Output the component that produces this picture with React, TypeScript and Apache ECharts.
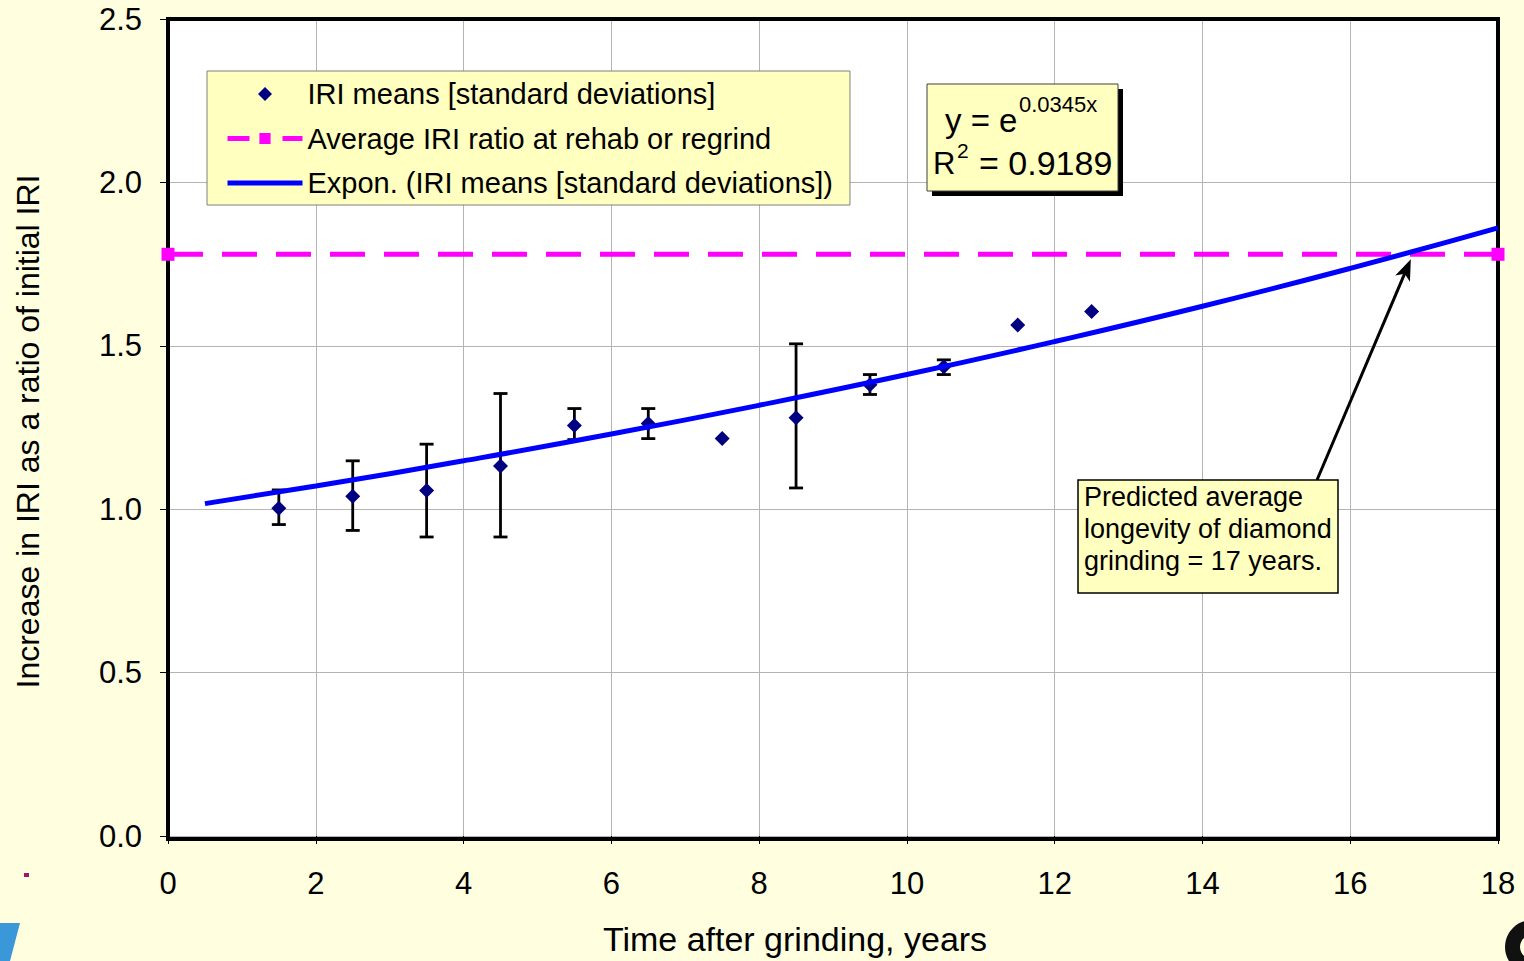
import React, { useEffect, useRef } from "react";
import * as echarts from "echarts";

// ---- data ----
const years = [1.5, 2.5, 3.5, 4.5, 5.5, 6.5, 7.5, 8.5, 9.5, 10.5, 11.5, 12.5];
const iriMeans = [1.003, 1.04, 1.057, 1.132, 1.256, 1.262, 1.216, 1.28, 1.381, 1.436, 1.564, 1.605];
const sdLow = [0.953, 0.935, 0.915, 0.915, 1.213, 1.216, null, 1.065, 1.351, 1.412, null, null];
const sdHigh = [1.059, 1.148, 1.199, 1.354, 1.308, 1.308, null, 1.506, 1.412, 1.457, null, null];
const trendX = [0.5, 2, 4, 6, 8, 10, 12, 14, 16, 18];
const trendY = [1.017, 1.071, 1.148, 1.23, 1.318, 1.412, 1.513, 1.621, 1.737, 1.861];
const rehabX = [0, 18];
const rehabY = [1.78, 1.78];
const arrowTip = [16.82, 1.765];

const SERIES_MEANS = "IRI means [standard deviations]";
const SERIES_REHAB = "Average IRI ratio at rehab or regrind";
const SERIES_TREND = "Expon. (IRI means [standard deviations])";
const annotationLines = ["Predicted average", "longevity of diamond", "grinding = 17 years."];

const FONT = "'Liberation Sans', Arial, Helvetica, sans-serif";
const DIAMOND = "path://M0,-1L1,0L0,1L-1,0Z";
const LINE_ICON = "path://M0,0L75,0L75,5L0,5Z";

const GRID = { left: 168, right: 26, top: 19, bottom: 122 };
const W = 1524;
const H = 961;

export default function App() {
  const ref = useRef<HTMLDivElement>(null);

  useEffect(() => {
    document.body.style.margin = "0";
    document.body.style.background = "#FFFFE0";
    const chart = echarts.init(ref.current!, null, { renderer: "svg" });

    const meansData = years.map((x, i) => [x, iriMeans[i]]);
    const errData = years
      .map((x, i) => [x, sdLow[i], sdHigh[i]])
      .filter((d) => d[1] != null && d[2] != null);
    const trendData = trendX.map((x, i) => [x, trendY[i]]);
    const rehabData = rehabX.map((x, i) => [x, rehabY[i]]);

    const option: any = {
      animation: false,
      backgroundColor: "#FFFFE0",
      textStyle: { fontFamily: FONT },
      grid: {
        ...GRID,
        show: true,
        backgroundColor: "#FFFFFF",
        borderWidth: 0,
      },
      legend: {
        left: 207,
        top: 71,
        orient: "vertical",
        data: [
          { name: SERIES_MEANS, icon: DIAMOND },
          { name: SERIES_REHAB, lineStyle: { width: 5, type: [22, 33], color: "#FF00FF" } },
          { name: SERIES_TREND, icon: LINE_ICON },
        ],
        itemWidth: 75,
        itemHeight: 14,
        itemGap: 14.5,
        symbolKeepAspect: true,
        padding: [8, 17, 7, 18],
        backgroundColor: "#FFFFC0",
        borderColor: "#808080",
        borderWidth: 1,
        borderRadius: 0,
        selectedMode: false,
        textStyle: { fontFamily: FONT, fontSize: 29, color: "#000", lineHeight: 30 },
        z: 100,
      },
      xAxis: {
        type: "value",
        min: 0,
        max: 18,
        interval: 2,
        name: "Time after grinding, years",
        nameLocation: "middle",
        nameGap: 86,
        nameTextStyle: { fontFamily: FONT, fontSize: 34, color: "#000", padding: [0, 76, 0, 0] },
        axisLine: { show: false },
        axisTick: { show: true, length: 8, lineStyle: { color: "#000", width: 1 } },
        axisLabel: { fontFamily: FONT, fontSize: 31, color: "#000", margin: 32 },
        splitLine: { show: true, lineStyle: { color: "#B4B4B4", width: 1 } },
      },
      yAxis: {
        type: "value",
        min: 0,
        max: 2.5,
        interval: 0.5,
        name: "Increase in IRI as a ratio of initial IRI",
        nameLocation: "middle",
        nameGap: 124,
        nameTextStyle: { fontFamily: FONT, fontSize: 32, color: "#000", padding: [0, 8, 0, 0] },
        axisLine: { show: false },
        axisTick: { show: true, length: 8, lineStyle: { color: "#000", width: 1 } },
        axisLabel: {
          fontFamily: FONT,
          fontSize: 31,
          color: "#000",
          margin: 26,
          formatter: (v: number) => v.toFixed(1),
        },
        splitLine: { show: true, lineStyle: { color: "#B4B4B4", width: 1 } },
      },
      series: [
        {
          name: SERIES_REHAB,
          type: "line",
          data: rehabData,
          z: 2,
          symbol: "rect",
          symbolSize: 13,
          showSymbol: true,
          itemStyle: { color: "#FF00FF", opacity: 1 },
          lineStyle: { color: "#FF00FF", width: 5, type: [35, 19] },
          clip: false,
        },
        {
          name: "errorbars",
          type: "custom",
          z: 3,
          data: errData,
          encode: { x: 0, y: [1, 2] },
          clip: false,
          renderItem: (params: any, api: any) => {
            const x = api.value(0);
            const lo = api.value(1);
            const hi = api.value(2);
            const top = api.coord([x, hi]);
            const bot = api.coord([x, lo]);
            const hw = 7;
            const style = { stroke: "#000000", lineWidth: 2.8, fill: "none" };
            return {
              type: "group",
              children: [
                { type: "line", shape: { x1: top[0], y1: top[1], x2: bot[0], y2: bot[1] }, style },
                { type: "line", shape: { x1: top[0] - hw, y1: top[1], x2: top[0] + hw, y2: top[1] }, style },
                { type: "line", shape: { x1: bot[0] - hw, y1: bot[1], x2: bot[0] + hw, y2: bot[1] }, style },
              ],
            };
          },
        },
        {
          name: SERIES_MEANS,
          type: "scatter",
          z: 4,
          data: meansData,
          symbol: DIAMOND,
          symbolSize: 15,
          itemStyle: { color: "#000080", opacity: 1 },
        },
        {
          name: SERIES_TREND,
          type: "line",
          z: 5,
          data: trendData,
          smooth: true,
          symbol: "none",
          showSymbol: false,
          itemStyle: { color: "#0000FF" },
          lineStyle: { color: "#0000FF", width: 5 },
        },
      ],
    };

    chart.setOption(option);

    // arrow from the annotation box to where the trend meets the rehab level
    const tip = chart.convertToPixel({ xAxisIndex: 0, yAxisIndex: 0 }, arrowTip) as number[];
    const start = [1317, 480];
    const dx = tip[0] - start[0];
    const dy = tip[1] - start[1];
    const len = Math.sqrt(dx * dx + dy * dy);
    const ux = dx / len;
    const uy = dy / len;
    const px = -uy;
    const py = ux;
    const headLen = 21;
    const headHalf = 8;
    const base = [tip[0] - ux * headLen, tip[1] - uy * headLen];
    const notch = [tip[0] - ux * headLen * 0.75, tip[1] - uy * headLen * 0.75];

    const plotW = W - GRID.left - GRID.right;
    const plotH = H - GRID.top - GRID.bottom;

    const graphic: any[] = [
      // plot frame
      {
        type: "rect",
        z: 1,
        silent: true,
        shape: { x: GRID.left, y: GRID.top, width: plotW, height: plotH },
        style: { fill: "none", stroke: "#000000", lineWidth: 4 },
      },
      // arrow
      {
        type: "line",
        z: 6,
        shape: { x1: start[0], y1: start[1], x2: notch[0], y2: notch[1] },
        style: { stroke: "#000000", lineWidth: 3 },
      },
      {
        type: "polygon",
        z: 6,
        shape: {
          points: [
            tip,
            [base[0] + px * headHalf, base[1] + py * headHalf],
            notch,
            [base[0] - px * headHalf, base[1] - py * headHalf],
          ],
        },
        style: { fill: "#000000" },
      },
      // equation box with shadow
      { type: "rect", z: 100, shape: { x: 932, y: 89, width: 191, height: 107 }, style: { fill: "#000000" } },
      {
        type: "rect",
        z: 101,
        shape: { x: 927, y: 84, width: 191, height: 107 },
        style: { fill: "#FFFFC0", stroke: "#404040", lineWidth: 1 },
      },
      {
        type: "text",
        z: 102,
        x: 945,
        y: 120,
        style: { text: "y = e", font: `33px ${FONT}`, fill: "#000", verticalAlign: "middle", align: "left" },
      },
      {
        type: "text",
        z: 102,
        x: 1019,
        y: 104,
        style: { text: "0.0345x", font: `22px ${FONT}`, fill: "#000", verticalAlign: "middle", align: "left" },
      },
      {
        type: "text",
        z: 102,
        x: 933,
        y: 163,
        style: { text: "R", font: `31px ${FONT}`, fill: "#000", verticalAlign: "middle", align: "left" },
      },
      {
        type: "text",
        z: 102,
        x: 957,
        y: 150,
        style: { text: "2", font: `21px ${FONT}`, fill: "#000", verticalAlign: "middle", align: "left" },
      },
      {
        type: "text",
        z: 102,
        x: 979,
        y: 163,
        style: { text: "= 0.9189", font: `34px ${FONT}`, fill: "#000", verticalAlign: "middle", align: "left" },
      },
      // annotation box
      {
        type: "rect",
        z: 100,
        shape: { x: 1078, y: 480, width: 260, height: 113 },
        style: { fill: "#FFFFC0", stroke: "#000000", lineWidth: 1.5 },
      },
      ...annotationLines.map((t, i) => ({
        type: "text",
        z: 101,
        x: 1084,
        y: 497 + i * 32,
        style: { text: t, font: `27px ${FONT}`, fill: "#000", verticalAlign: "middle", align: "left" },
      })),
      // slide artefacts around the chart
      { type: "rect", z: 100, shape: { x: 24, y: 873, width: 5, height: 4 }, style: { fill: "#A0186E" } },
      {
        type: "polygon",
        z: 100,
        shape: { points: [[0, 923], [20, 923], [10, 961], [0, 961]] },
        style: { fill: "#3A98D8" },
      },
      {
        type: "ring",
        z: 100,
        shape: { cx: 1532, cy: 947, r: 27, r0: 12 },
        style: { fill: "#111111" },
      },
    ];

    chart.setOption({ graphic });
    return () => chart.dispose();
  }, []);

  return (
    <div
      ref={ref}
      style={{ position: "absolute", left: 0, top: 0, width: W, height: H, background: "#FFFFE0" }}
    />
  );
}
